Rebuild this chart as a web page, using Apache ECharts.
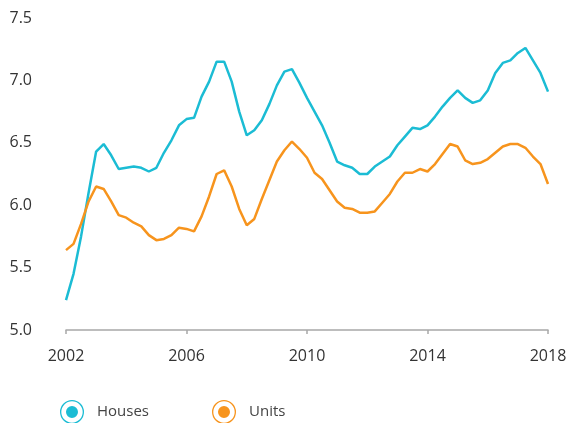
<!DOCTYPE html>
<html>
<head>
<meta charset="utf-8">
<script src="https://cdn.jsdelivr.net/npm/echarts@6/dist/echarts.min.js"></script>
<style>html,body{margin:0;padding:0;background:#fff}#c{width:571px;height:423px}</style>
</head>
<body>
<div id="c"></div>
<script>
var startYear = 2002;
var xTicks = [2002, 2006, 2010, 2014, 2018];
var yTicks = [5.0, 5.5, 6.0, 6.5, 7.0, 7.5];
var seriesNames = ['Houses', 'Units'];
// quarterly values, 2002 Q1 .. 2018 Q1
var houses = [
  5.24, 5.45, 5.75, 6.10,
  6.43, 6.49, 6.40, 6.29,
  6.30, 6.31, 6.30, 6.27,
  6.30, 6.42, 6.52, 6.64,
  6.69, 6.70, 6.87, 6.99,
  7.15, 7.15, 6.99, 6.75,
  6.56, 6.60, 6.68, 6.81,
  6.96, 7.07, 7.09, 6.98,
  6.86, 6.75, 6.64, 6.50,
  6.35, 6.32, 6.30, 6.25,
  6.25, 6.31, 6.35, 6.39,
  6.48, 6.55, 6.62, 6.61,
  6.64, 6.71, 6.79, 6.86,
  6.92, 6.86, 6.82, 6.84,
  6.92, 7.06, 7.14, 7.16,
  7.22, 7.26, 7.16, 7.06,
  6.91
];
var units = [
  5.64, 5.69, 5.85, 6.03,
  6.15, 6.13, 6.03, 5.92,
  5.90, 5.86, 5.83, 5.76,
  5.72, 5.73, 5.76, 5.82,
  5.81, 5.79, 5.91, 6.07,
  6.25, 6.28, 6.15, 5.97,
  5.84, 5.89, 6.05, 6.20,
  6.35, 6.44, 6.51, 6.45,
  6.38, 6.26, 6.21, 6.12,
  6.03, 5.98, 5.97, 5.94,
  5.94, 5.95, 6.02, 6.09,
  6.19, 6.26, 6.26, 6.29,
  6.27, 6.33, 6.41, 6.49,
  6.47, 6.36, 6.33, 6.34,
  6.37, 6.42, 6.47, 6.49,
  6.49, 6.46, 6.39, 6.33,
  6.17
];
var colors = ['#1bbcd4', '#f7941d'];

function toPairs(arr) {
  return arr.map(function (v, i) { return [startYear + i / 4, v]; });
}
var icon = 'path://M0,12 A12,12 0 1,1 24,12 A12,12 0 1,1 0,12 Z M1.3,12 A10.7,10.7 0 1,0 22.7,12 A10.7,10.7 0 1,0 1.3,12 Z M6,12 A6,6 0 1,1 18,12 A6,6 0 1,1 6,12 Z';
var FONT = '"Open Sans", "Noto Sans", sans-serif';

var chart = echarts.init(document.getElementById('c'), null, {renderer: 'canvas'});
chart.setOption({
  animation: false,
  backgroundColor: '#fff',
  grid: {left: 66, right: 23, top: 18, bottom: 93},
  legend: {
    data: seriesNames,
    left: 55, top: 395,
    icon: icon,
    itemWidth: 24, itemHeight: 24,
    itemGap: 63,
    itemStyle: {borderWidth: 0},
    textStyle: {fontFamily: FONT, fontSize: 15, color: '#444', padding: [0, 0, 0, 8]}
  },
  xAxis: {
    type: 'value', min: xTicks[0], max: xTicks[xTicks.length - 1], interval: 4,
    splitLine: {show: false},
    axisLine: {show: true, lineStyle: {color: '#a8a8a8', width: 1.5}},
    axisTick: {show: true, length: 4, lineStyle: {color: '#a8a8a8', width: 1.5}},
    axisLabel: {margin: 18, fontFamily: FONT, fontSize: 16, color: '#333', formatter: function (v) { return String(v); }}
  },
  yAxis: {
    type: 'value', min: yTicks[0], max: yTicks[yTicks.length - 1], interval: 0.5,
    splitLine: {show: false},
    axisLine: {show: false},
    axisTick: {show: false},
    axisLabel: {margin: 34, fontFamily: FONT, fontSize: 16, color: '#333', formatter: function (v) { return v.toFixed(1); }}
  },
  series: [
    {name: seriesNames[0], type: 'line', data: toPairs(houses), showSymbol: false, symbol: 'none',
     color: colors[0], lineStyle: {width: 2.5, color: colors[0]}, itemStyle: {color: colors[0]}},
    {name: seriesNames[1], type: 'line', data: toPairs(units), showSymbol: false, symbol: 'none',
     color: colors[1], lineStyle: {width: 2.5, color: colors[1]}, itemStyle: {color: colors[1]}}
  ]
});
</script>
</body>
</html>
